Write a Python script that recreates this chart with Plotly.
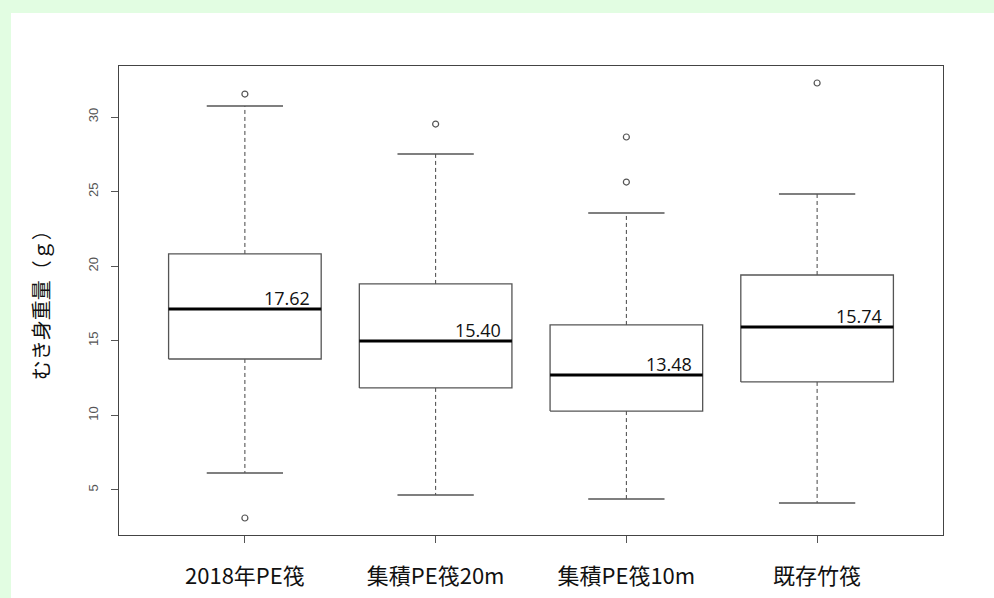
import plotly.graph_objects as go

categories = ["2018年PE筏", "集積PE筏20m", "集積PE筏10m", "既存竹筏"]
q1 = [13.78, 11.84, 10.29, 12.24]
median = [17.13, 14.99, 12.71, 15.92]
q3 = [20.82, 18.81, 16.06, 19.41]
lower_whisker = [6.14, 4.66, 4.40, 4.13]
upper_whisker = [30.74, 27.52, 23.57, 24.84]
outliers = [[31.54, 3.12], [29.53], [28.66, 25.64], [32.28]]
mean_labels = ["17.62", "15.40", "13.48", "15.74"]
y_ticks = [5, 10, 15, 20, 25, 30]

positions = list(range(1, len(categories) + 1))
hw = 0.4   # half box width
cw = 0.2   # half cap width

box_x, box_y = [], []
med_x, med_y = [], []
wh_x, wh_y = [], []
cap_x, cap_y = [], []
out_x, out_y = [], []
for p, a, m, b, lo, hi, outs in zip(positions, q1, median, q3, lower_whisker, upper_whisker, outliers):
    box_x += [p - hw, p + hw, p + hw, p - hw, p - hw, None]
    box_y += [a, a, b, b, a, None]
    med_x += [p - hw, p + hw, None]
    med_y += [m, m, None]
    wh_x += [p, p, None, p, p, None]
    wh_y += [b, hi, None, a, lo, None]
    cap_x += [p - cw, p + cw, None, p - cw, p + cw, None]
    cap_y += [hi, hi, None, lo, lo, None]
    for o in outs:
        out_x.append(p)
        out_y.append(o)

fig = go.Figure()
fig.add_trace(go.Scatter(x=wh_x, y=wh_y, mode="lines",
                         line=dict(color="#444", width=1, dash="4px,3px"), hoverinfo="skip"))
fig.add_trace(go.Scatter(x=cap_x, y=cap_y, mode="lines",
                         line=dict(color="#555", width=1.5), hoverinfo="skip"))
fig.add_trace(go.Scatter(x=box_x, y=box_y, mode="lines",
                         line=dict(color="#555", width=1.3), hoverinfo="skip"))
fig.add_trace(go.Scatter(x=med_x, y=med_y, mode="lines",
                         line=dict(color="#000", width=3), hoverinfo="skip"))
fig.add_trace(go.Scatter(x=out_x, y=out_y, mode="markers",
                         marker=dict(symbol="circle-open", size=6, color="#555",
                                     line=dict(width=1.2)), hoverinfo="skip"))

for p, m, t in zip(positions, median, mean_labels):
    fig.add_annotation(x=p + hw, y=m, text=t, xref="x", yref="y",
                       xanchor="right", yanchor="bottom", xshift=-9, yshift=-3,
                       showarrow=False,
                       font=dict(family="Open Sans, Noto Sans, sans-serif", size=18, color="#111"))

# y-axis title
fig.add_annotation(x=-0.095, y=0.5, xref="paper", yref="paper", text="むき身重量（ｇ）",
                   textangle=-90, showarrow=False, xanchor="center", yanchor="middle",
                   font=dict(family="Noto Sans CJK JP", size=20, color="#111"))

# white panel over green background
fig.add_shape(type="rect", xref="paper", yref="paper",
              x0=(11 - 119) / 824, x1=(994 - 119) / 824 + 0.01,
              y0=(535 - 600) / 469, y1=(535 - 13) / 469,
              fillcolor="white", line=dict(width=0), layer="below")

fig.update_layout(
    width=994, height=598,
    margin=dict(l=119, r=51, t=66, b=63, autoexpand=False),
    paper_bgcolor="#e2fde2",
    plot_bgcolor="rgba(0,0,0,0)",
    showlegend=False,
    xaxis=dict(range=[0.34, 4.66], tickvals=positions, ticktext=categories,
               showgrid=False, zeroline=False, showline=True, mirror=True,
               linecolor="#444", linewidth=1.2, ticks="outside", ticklen=7,
               tickcolor="#555", ticklabelstandoff=14, automargin=False,
               tickfont=dict(family="Noto Sans CJK JP", size=22, color="#111")),
    yaxis=dict(range=[1.98, 33.42], tickvals=y_ticks, ticktext=[str(v) for v in y_ticks],
               showgrid=False, zeroline=False, showline=True, mirror=True,
               linecolor="#444", linewidth=1.2, ticks="outside", ticklen=7,
               tickcolor="#555", tickangle=-90, ticklabelstandoff=8, automargin=False,
               tickfont=dict(family="Liberation Sans, Arial", size=13, color="#555")),
)

fig.write_html("out.html")
